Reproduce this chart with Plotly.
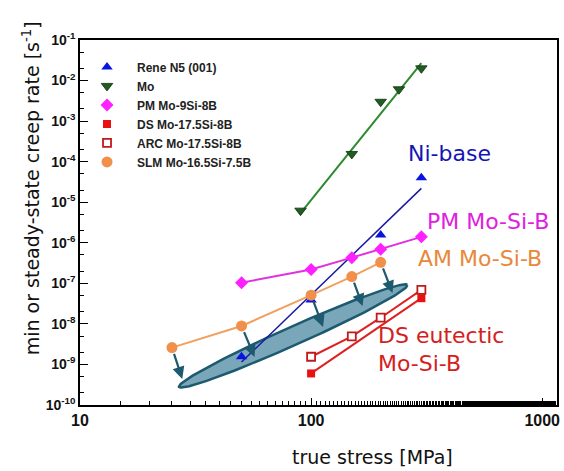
import numpy as np
import plotly.graph_objects as go

# ---------------- data ----------------
rene_x = [50, 100, 200, 300]
rene_y = [1.55e-9, 3.9e-8, 1.55e-6, 4.0e-5]
rene_fit_x = [50, 300]
rene_fit_y = [1.15e-9, 2.2e-5]

mo_x = [90, 150, 200, 240, 300]
mo_y = [6.2e-6, 1.55e-4, 3.0e-3, 6.1e-3, 2.0e-2]
mo_fit_x = [90, 300]
mo_fit_y = [5.4e-6, 2.7e-2]

pm_x = [50, 100, 150, 200, 300]
pm_y = [1.04e-7, 2.2e-7, 4.3e-7, 6.9e-7, 1.4e-6]

ds_x = [100, 300]
ds_y = [6.0e-10, 4.3e-8]

arc_x = [100, 150, 200, 300]
arc_y = [1.55e-9, 4.9e-9, 1.42e-8, 6.9e-8]

slm_x = [25, 50, 100, 150, 200]
slm_y = [2.6e-9, 8.9e-9, 5.1e-8, 1.47e-7, 3.3e-7]

# arrow heads (on the shaded band), one per SLM point
arrow_head_x = [27.7, 56.9, 112.7, 167, 225]
arrow_head_y = [4.4e-10, 1.53e-9, 8.4e-9, 2.77e-8, 5.8e-8]

# shaded band (ellipse) end points and half thickness
band_end_x = [26.8, 261]
band_end_y = [2.8e-10, 9.1e-8]
band_half_px = 9.2

x_range = [1, 3.064]
y_range = [-10, -1]

W, H = 564, 471
ML, MR, MT, MB = 80, 4, 40, 66
PW, PH = W - ML - MR, H - MT - MB

# --------------- figure ---------------
fig = go.Figure()

# ellipse computed in screen-proportional log space
sx = PW / (x_range[1] - x_range[0])
sy = PH / (y_range[1] - y_range[0])
u = np.log10(band_end_x) * sx
v = np.log10(band_end_y) * sy
cu, cv = u.mean(), v.mean()
a = np.hypot(u[1] - u[0], v[1] - v[0]) / 2
ang = np.arctan2(v[1] - v[0], u[1] - u[0])
t = np.linspace(0, 2 * np.pi, 200)
eu = cu + a * np.cos(t) * np.cos(ang) - band_half_px * np.sin(t) * np.sin(ang)
ev = cv + a * np.cos(t) * np.sin(ang) + band_half_px * np.sin(t) * np.cos(ang)
fig.add_trace(go.Scatter(x=10 ** (eu / sx), y=10 ** (ev / sy), mode="lines",
                         fill="toself", fillcolor="#7aa6ba",
                         line=dict(color="#1d5a70", width=2.5),
                         showlegend=False, hoverinfo="skip"))

# lines (no legend)
fig.add_trace(go.Scatter(x=rene_fit_x, y=rene_fit_y, mode="lines",
                         line=dict(color="#1a1aa0", width=1.5), showlegend=False))
fig.add_trace(go.Scatter(x=mo_fit_x, y=mo_fit_y, mode="lines",
                         line=dict(color="#2e8a2e", width=2), showlegend=False))
fig.add_trace(go.Scatter(x=pm_x, y=pm_y, mode="lines",
                         line=dict(color="#e030e0", width=2), showlegend=False))
fig.add_trace(go.Scatter(x=ds_x, y=ds_y, mode="lines",
                         line=dict(color="#e02020", width=2), showlegend=False))
fig.add_trace(go.Scatter(x=arc_x, y=arc_y, mode="lines",
                         line=dict(color="#e02020", width=2), showlegend=False))
fig.add_trace(go.Scatter(x=slm_x, y=slm_y, mode="lines",
                         line=dict(color="#f0a060", width=2), showlegend=False))

# markers (legend)
fig.add_trace(go.Scatter(x=rene_x, y=rene_y, mode="markers", name="<b>Rene N5 (001)</b>",
                         marker=dict(symbol="triangle-up", size=10, color="#0a14e0")))
fig.add_trace(go.Scatter(x=mo_x, y=mo_y, mode="markers", name="<b>Mo</b>",
                         marker=dict(symbol="triangle-down", size=10, color="#1f5e1f",
                                     line=dict(color="#0f2f0f", width=0.8))))
fig.add_trace(go.Scatter(x=pm_x, y=pm_y, mode="markers", name="<b>PM Mo-9Si-8B</b>",
                         marker=dict(symbol="diamond", size=10, color="#ff20ff")))
fig.add_trace(go.Scatter(x=ds_x, y=ds_y, mode="markers", name="<b>DS Mo-17.5Si-8B</b>",
                         marker=dict(symbol="square", size=8, color="#e81010")))
fig.add_trace(go.Scatter(x=arc_x, y=arc_y, mode="markers", name="<b>ARC Mo-17.5Si-8B</b>",
                         marker=dict(symbol="square", size=8, color="white",
                                     line=dict(color="#c01a1a", width=1.8))))
fig.add_trace(go.Scatter(x=slm_x, y=slm_y, mode="markers", name="<b>SLM Mo-16.5Si-7.5B</b>",
                         marker=dict(symbol="circle", size=11, color="#f0904a")))

annotations = []
for tx, ty, hx, hy in zip(slm_x, slm_y, arrow_head_x, arrow_head_y):
    annotations.append(dict(x=np.log10(hx), y=np.log10(hy), ax=np.log10(tx), ay=np.log10(ty),
                            xref="x", yref="y", axref="x", ayref="y", text="",
                            showarrow=True, arrowhead=2, arrowsize=1.1, arrowwidth=2.2,
                            arrowcolor="#1d5a6e", startstandoff=5))

label_font = "DejaVu Sans"
labels = [
    ("Ni-base", 408, 153, "#1515b5"),
    ("PM Mo-Si-B", 427, 222, "#e020e0"),
    ("AM Mo-Si-B", 418, 258, "#e8883a"),
    ("DS eutectic", 378, 335, "#d42020"),
    ("Mo-Si-B", 378, 363, "#d42020"),
]
for txt, px, py, col in labels:
    annotations.append(dict(x=(px - ML) / PW, y=1 - (py - MT) / PH, xref="paper", yref="paper",
                            text=txt, showarrow=False, xanchor="left", yanchor="middle",
                            font=dict(family=label_font, size=22, color=col)))

annotations.append(dict(x=(374 - ML) / PW, y=1 - (457 - MT) / PH, xref="paper", yref="paper",
                        text="true stress [MPa]", showarrow=False, xanchor="center", yanchor="middle",
                        font=dict(family=label_font, size=19, color="#111")))
annotations.append(dict(x=(31 - ML) / PW, y=1 - (188 - MT) / PH, xref="paper", yref="paper",
                        text="min or steady-state creep rate [s<sup>-1</sup>]", textangle=-90,
                        showarrow=False, xanchor="center", yanchor="middle",
                        font=dict(family=label_font, size=19, color="#111")))

ytick_vals = [10.0 ** e for e in range(-10, 0)]
ytick_text = ["<b>10<sup>%d</sup></b>" % e for e in range(-10, 0)]
xtick_vals = [10, 100, 1000]
xtick_text = ["<b>10</b>", "<b>100</b>", "<b>1000</b>"]

fig.update_layout(
    width=W, height=H, margin=dict(l=ML, r=MR, t=MT, b=MB),
    paper_bgcolor="white", plot_bgcolor="white",
    font=dict(family="Liberation Sans, Arial", color="#222"),
    annotations=annotations,
    legend=dict(x=(77 - ML) / PW, y=0.966, xanchor="left", yanchor="top", bgcolor="rgba(0,0,0,0)",
                font=dict(family="Liberation Sans, Arial", size=12, color="#222"),
                tracegroupgap=0, itemwidth=50),
    xaxis=dict(type="log", range=x_range, showgrid=False, zeroline=False,
               showline=True, linecolor="black", linewidth=1.5, mirror=True,
               ticks="inside", ticklen=7, tickcolor="black", tickwidth=1,
               tickvals=xtick_vals, ticktext=xtick_text,
               tickfont=dict(family="Liberation Sans, Arial", size=16, color="#111"),
               minor=dict(ticks="inside", ticklen=4, tickcolor="black", showgrid=False)),
    yaxis=dict(type="log", range=y_range, showgrid=False, zeroline=False,
               showline=True, linecolor="black", linewidth=1.5, mirror=True,
               ticks="inside", ticklen=8, tickcolor="black", tickwidth=1.2,
               tickvals=ytick_vals, ticktext=ytick_text,
               tickfont=dict(family="Liberation Sans, Arial", size=14, color="#111"),
               minor=dict(ticks="inside", ticklen=4, tickcolor="black", showgrid=False)),
)

fig.write_html("out.html", config={"displayModeBar": False},
               post_script="document.body.style.margin='0px';document.body.style.overflow='hidden';")
